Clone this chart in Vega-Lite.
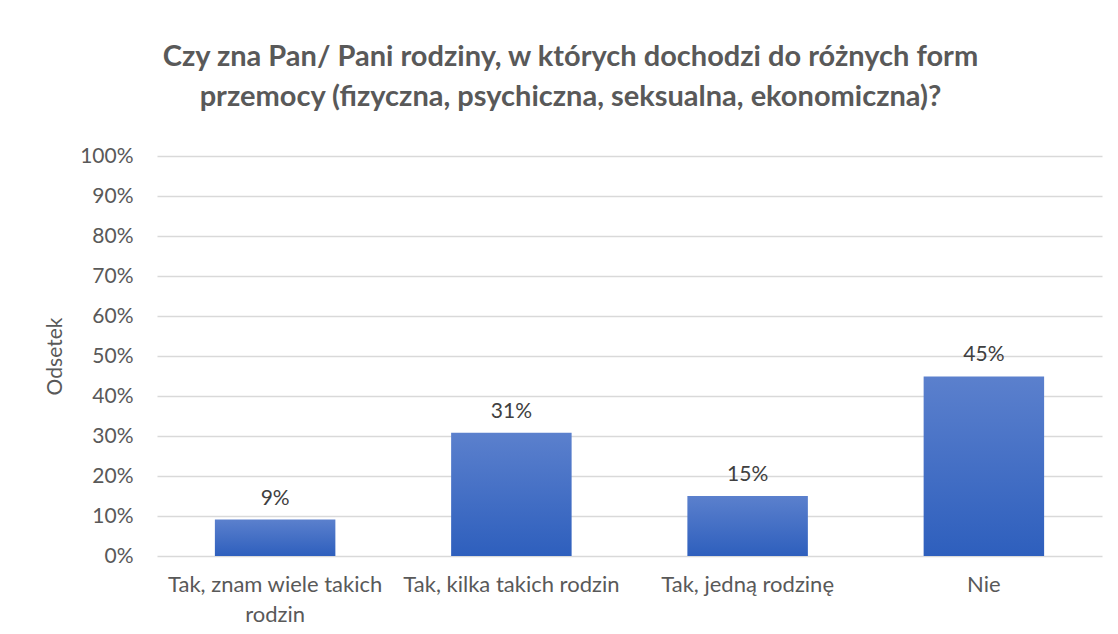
{
  "$schema": "https://vega.github.io/schema/vega-lite/v6.json",
  "width": 945,
  "height": 400,
  "autosize": {"type": "none"},
  "padding": {"left": 157, "top": 156, "right": 16, "bottom": 78},
  "background": "white",
  "title": {
    "text": ["Czy zna Pan/ Pani rodziny, w których dochodzi do różnych form", "przemocy (fizyczna, psychiczna, seksualna, ekonomiczna)?"],
    "font": "Lato",
    "fontSize": 29,
    "fontWeight": "bold",
    "color": "#595959",
    "lineHeight": 40,
    "anchor": "middle",
    "dx": -59,
    "offset": 33
  },
  "data": {
    "values": [
      {"odp": "Tak, znam wiele takich rodzin", "odsetek": 0.091},
      {"odp": "Tak, kilka takich rodzin", "odsetek": 0.308},
      {"odp": "Tak, jedną rodzinę", "odsetek": 0.150},
      {"odp": "Nie", "odsetek": 0.449}
    ]
  },
  "config": {
    "view": {"stroke": null},
    "font": "Lato",
    "axis": {"labelFont": "Lato", "titleFont": "Lato"}
  },
  "encoding": {
    "x": {
      "field": "odp",
      "type": "nominal",
      "sort": null,
      "scale": {"paddingInner": 0, "paddingOuter": 0},
      "axis": {
        "title": null,
        "labelAngle": 0,
        "labelFontSize": 22,
        "labelColor": "#595959",
        "labelPadding": 18,
        "labelLineHeight": 30,
        "labelLimit": 300,
        "ticks": false,
        "domain": false,
        "labelExpr": "datum.label == 'Tak, znam wiele takich rodzin' ? ['Tak, znam wiele takich', 'rodzin'] : datum.label"
      }
    },
    "y": {
      "field": "odsetek",
      "type": "quantitative",
      "scale": {"domain": [0, 1], "nice": false},
      "axis": {
        "title": "Odsetek",
        "titleFontSize": 21,
        "titleFontWeight": "normal",
        "titleColor": "#595959",
        "titlePadding": 14,
        "format": ".0%",
        "values": [0, 0.1, 0.2, 0.3, 0.4, 0.5, 0.6, 0.7, 0.8, 0.9, 1],
        "labelOverlap": false,
        "labelFontSize": 21,
        "labelColor": "#595959",
        "labelPadding": 24,
        "ticks": false,
        "domain": false,
        "gridColor": "#d9d9d9",
        "gridWidth": 1.5
      }
    }
  },
  "layer": [
    {
      "mark": {
        "type": "bar",
        "width": {"band": 0.51},
        "color": {
          "gradient": "linear",
          "x1": 0, "y1": 0, "x2": 0, "y2": 1,
          "stops": [
            {"offset": 0, "color": "#5b80cd"},
            {"offset": 1, "color": "#2e5fbd"}
          ]
        }
      }
    },
    {
      "mark": {
        "type": "text",
        "baseline": "bottom",
        "dy": -11,
        "fontSize": 21,
        "color": "#404040",
        "font": "Lato"
      },
      "encoding": {
        "text": {"field": "odsetek", "type": "quantitative", "format": ".0%"}
      }
    }
  ]
}
